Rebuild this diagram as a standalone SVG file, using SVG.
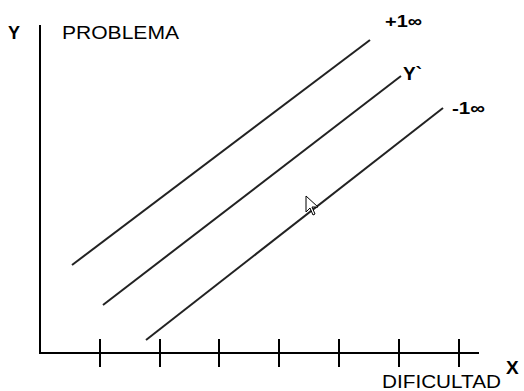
<svg xmlns="http://www.w3.org/2000/svg" width="524" height="391" viewBox="0 0 524 391">
<style>
.ax{stroke:#000;stroke-width:2;fill:none}
.ln{stroke:#222;stroke-width:2;fill:none}
.t{font-family:"Liberation Sans",Arial,sans-serif;fill:#000}
.b{font-weight:bold}
</style>
<rect width="524" height="391" fill="#fff"/>
<g id="axes">
<path class="ax" d="M40,25 V353 H479"/>
<path class="ax" d="M100,339V367M160,339V367M219,339V367M279,339V367M339,339V367M399,339V367M459,339V367"/>
</g>
<g id="connectors">
<line class="ln" x1="72" y1="265" x2="370" y2="40"/>
<line class="ln" x1="103" y1="305" x2="401" y2="76"/>
<line class="ln" x1="146" y1="340" x2="443" y2="108"/>
</g>
<g id="labels">
<text class="t b" x="8" y="39" font-size="18">Y</text>
<text class="t" x="62" y="39" font-size="18" textLength="117" lengthAdjust="spacingAndGlyphs">PROBLEMA</text>
<text class="t b" x="385" y="27" font-size="17" textLength="37" lengthAdjust="spacingAndGlyphs">+1∞</text>
<text class="t b" x="403" y="80" font-size="19">Y`</text>
<text class="t b" x="452" y="114" font-size="17" textLength="33" lengthAdjust="spacingAndGlyphs">-1∞</text>
<text class="t b" x="506" y="374" font-size="19">X</text>
<text class="t" x="382" y="388" font-size="18" textLength="119" lengthAdjust="spacingAndGlyphs">DIFICULTAD</text>
</g>
<g id="cursor">
<path d="M306,196 V212 L310,208 L313,215 L315,214 L312,207 L318,207 Z" fill="#fff" stroke="#000" stroke-width="1"/>
</g>
</svg>
